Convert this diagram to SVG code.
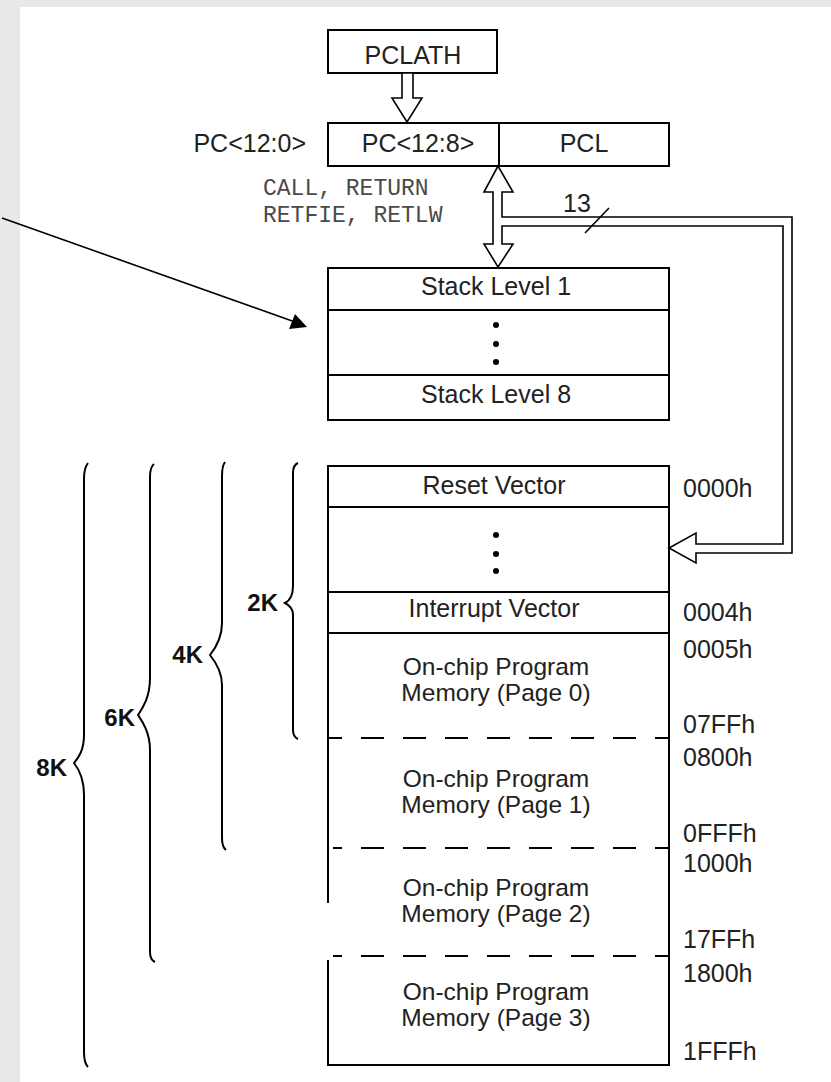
<svg xmlns="http://www.w3.org/2000/svg" width="831" height="1082" viewBox="0 0 831 1082">
<style>
.ln{fill:none;stroke:#000;stroke-width:2}
.bus{fill:none;stroke:#000;stroke-width:1.6}
.busf{fill:#fff;stroke:#000;stroke-width:1.6}
.t{font-family:"Liberation Sans",Arial,sans-serif;font-size:25px;fill:#222}
.p{font-size:24.5px}
.c{text-anchor:middle}
.b{font-weight:bold;text-anchor:end;fill:#111;font-size:24px}
.m{font-family:"Liberation Mono","Courier New",monospace;font-size:23px;fill:#4a4a4a}
.dash{fill:none;stroke:#000;stroke-width:2;stroke-dasharray:23 19}
.dot{fill:#000}
</style>
<rect x="0" y="0" width="831" height="1082" fill="#e8e8e8"/>
<rect x="20" y="7" width="811" height="1075" fill="#fff"/>

<g id="pclath">
<rect class="ln" x="328" y="30" width="169" height="43"/>
<text class="t c" x="413" y="64">PCLATH</text>
</g>

<g id="pc">
<rect class="ln" x="328" y="123" width="341" height="43"/>
<line class="ln" x1="499" y1="123" x2="499" y2="166"/>
<text class="t c" x="418" y="152">PC&lt;12:8&gt;</text>
<text class="t c" x="584" y="152">PCL</text>
<text class="t" x="306" y="152" text-anchor="end">PC&lt;12:0&gt;</text>
</g>

<g id="stack">
<rect class="ln" x="328" y="268" width="341" height="152"/>
<line class="ln" x1="328" y1="310" x2="669" y2="310"/>
<line class="ln" x1="328" y1="375" x2="669" y2="375"/>
<text class="t c" x="496" y="295">Stack Level 1</text>
<circle class="dot" cx="496" cy="325" r="3"/>
<circle class="dot" cx="496" cy="344" r="3"/>
<circle class="dot" cx="496" cy="362" r="3"/>
<text class="t c" x="496" y="403">Stack Level 8</text>
</g>

<g id="memory">
<line class="ln" x1="327" y1="466" x2="670" y2="466"/>
<line class="ln" x1="669" y1="466" x2="669" y2="1066"/>
<line class="ln" x1="327" y1="1065" x2="670" y2="1065"/>
<line class="ln" x1="328" y1="466" x2="328" y2="903"/>
<line class="ln" x1="328" y1="960" x2="328" y2="1066"/>
<line class="ln" x1="328" y1="507" x2="669" y2="507"/>
<line class="ln" x1="328" y1="592" x2="669" y2="592"/>
<line class="ln" x1="328" y1="633" x2="669" y2="633"/>
<line class="dash" x1="328" y1="738" x2="669" y2="738" stroke-dashoffset="9"/>
<line class="dash" x1="333" y1="848" x2="669" y2="848" stroke-dashoffset="14"/>
<line class="dash" x1="333" y1="956" x2="669" y2="956" stroke-dashoffset="14"/>
<text class="t c" x="494" y="494">Reset Vector</text>
<circle class="dot" cx="496" cy="535" r="3"/>
<circle class="dot" cx="496" cy="554" r="3"/>
<circle class="dot" cx="496" cy="571" r="3"/>
<text class="t c" x="494" y="617">Interrupt Vector</text>
<text class="t p c" x="496" y="675"><tspan x="496">On-chip Program</tspan><tspan x="496" dy="26">Memory (Page 0)</tspan></text>
<text class="t p c" x="496" y="787"><tspan x="496">On-chip Program</tspan><tspan x="496" dy="26">Memory (Page 1)</tspan></text>
<text class="t p c" x="496" y="896"><tspan x="496">On-chip Program</tspan><tspan x="496" dy="26">Memory (Page 2)</tspan></text>
<text class="t p c" x="496" y="1000"><tspan x="496">On-chip Program</tspan><tspan x="496" dy="26">Memory (Page 3)</tspan></text>
</g>

<g id="addresses">
<text class="t" x="683" y="497">0000h</text>
<text class="t" x="683" y="621">0004h</text>
<text class="t" x="683" y="658">0005h</text>
<text class="t" x="683" y="733">07FFh</text>
<text class="t" x="683" y="766">0800h</text>
<text class="t" x="683" y="842">0FFFh</text>
<text class="t" x="683" y="872">1000h</text>
<text class="t" x="683" y="948">17FFh</text>
<text class="t" x="683" y="982">1800h</text>
<text class="t" x="683" y="1060">1FFFh</text>
</g>

<g id="braces">
<path class="ln" d="M298,463 Q293,465 293,473 L293,586 C293,596 289,601 285,603 C289,605 293,608 293,615 L293,730 Q293,737 298,739"/>
<text class="t b" x="278" y="611">2K</text>
<path class="ln" d="M225,462 Q222,466 222,476 L222,623 C222,640 214,650 210,655 C214,660 222,670 222,685 L222,838 Q222,847 226,850"/>
<text class="t b" x="203" y="663">4K</text>
<path class="ln" d="M154,464 Q150,467 150,477 L150,678 C150,698 142,709 138,715 C142,721 150,732 150,750 L150,952 Q150,960 155,962"/>
<text class="t b" x="135" y="726">6K</text>
<path class="ln" d="M88,463 Q84,468 84,479 L84,735 C84,751 78,758 74,763 C78,768 84,777 84,795 L84,1052 Q84,1063 88,1067"/>
<text class="t b" x="67" y="776">8K</text>
</g>

<g id="labels">
<text class="m" x="263" y="195" xml:space="preserve">CALL, RETURN</text>
<text class="m" x="263" y="222" xml:space="preserve">RETFIE, RETLW</text>
<text class="t" x="563" y="212">13</text>
</g>

<g id="connectors">
<polygon class="busf" points="402,73 413,73 413,98 422,98 407,122 392,98 402,98"/>
<polygon class="busf" points="498,166 513,192 502,192 502,217 792,217 792,553 696,553 696,563 669,548 696,533 696,544 783,544 783,226 502,226 502,244 513,244 498,267 484,244 493,244 493,192 484,192"/>
<line class="bus" x1="585" y1="233" x2="609" y2="208"/>
<line x1="2" y1="218" x2="295" y2="322" stroke="#000" stroke-width="1.6"/>
<polygon points="307,327 289,329 295,314" fill="#000"/>
</g>
</svg>
